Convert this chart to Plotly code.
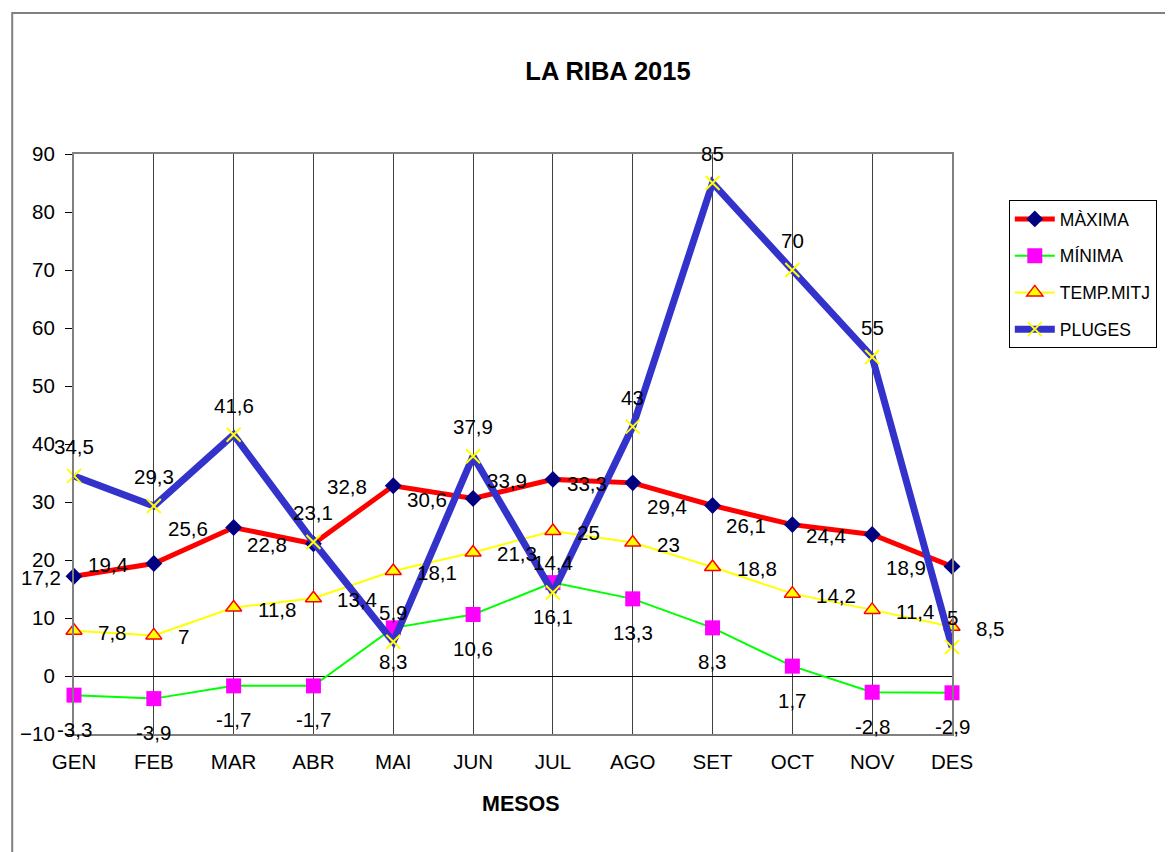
import plotly.graph_objects as go

months = ["GEN", "FEB", "MAR", "ABR", "MAI", "JUN", "JUL", "AGO", "SET", "OCT", "NOV", "DES"]
maxima = [17.2, 19.4, 25.6, 22.8, 32.8, 30.6, 33.9, 33.3, 29.4, 26.1, 24.4, 18.9]
minima = [-3.3, -3.9, -1.7, -1.7, 8.3, 10.6, 16.1, 13.3, 8.3, 1.7, -2.8, -2.9]
temp_mitja = [7.8, 7, 11.8, 13.4, 18.1, 21.3, 25, 23, 18.8, 14.2, 11.4, 8.5]
pluges = [34.5, 29.3, 41.6, 23.1, 5.9, 37.9, 14.4, 43, 85, 70, 55, 5]

FONT = "Liberation Sans, Arial, sans-serif"
OFF = 8  # page body margin
W, H = 1173 - OFF, 852 - OFF
L, T = 71 - OFF, 154 - OFF
R = W - (952 - OFF)
B = H - (734 - OFF)
pw = W - L - R
ph = H - T - B

def px(x):  # page pixel -> paper x
    return (x - OFF - L) / pw

def py(y):  # page pixel -> paper y
    return (H - B - (y - OFF)) / ph

def fmt(v):
    return f"{v:g}".replace(".", ",")

fig = go.Figure()

series = [
    dict(name="MÀXIMA", y=maxima, line=dict(color="#FF0000", width=5),
         marker=dict(symbol="diamond", size=13, color="#000080", line=dict(width=0))),
    dict(name="MÍNIMA", y=minima, line=dict(color="#00FF00", width=2),
         marker=dict(symbol="square", size=15, color="#FF00FF", line=dict(width=0))),
    dict(name="TEMP.MITJ", y=temp_mitja, line=dict(color="#FFFF00", width=2),
         marker=dict(symbol="triangle-up", size=14, color="#FFFF00", line=dict(color="#FF0000", width=1.5))),
    dict(name="PLUGES", y=pluges, line=dict(color="#3333CC", width=7),
         marker=dict(symbol="x-thin", size=14, color="#FFFF00", line=dict(color="#FFFF00", width=2))),
]
for i, s in enumerate(series):
    fig.add_trace(go.Scatter(x=months, y=s["y"], name=s["name"], mode="lines+markers",
                             line=s["line"], marker=s["marker"], cliponaxis=False,
                             legendgroup=f"g{i}"))

label_style = {
    "MÀXIMA": dict(xanchor="center", xshift=-46, yshift=-1),
    "MÍNIMA": dict(xanchor="center", xshift=0, yshift=-34),
    "TEMP.MITJ": dict(xanchor="left", xshift=22, yshift=-1.5),
    "PLUGES": dict(xanchor="center", xshift=0, yshift=29.5),
}
annotations = []
for s in series:
    st = label_style[s["name"]]
    for j, (m, v) in enumerate(zip(months, s["y"])):
        xs = st["xshift"]
        if s["name"] == "MÀXIMA" and j == 0:
            xs = -33
        annotations.append(dict(x=m, y=v, xref="x", yref="y", text=fmt(v), showarrow=False,
                                xanchor=st["xanchor"], yanchor="middle", xshift=xs, yshift=st["yshift"],
                                font=dict(family=FONT, size=20.5, color="black")))

annotations.append(dict(text="<b>MESOS</b>", x=px(520), y=py(804),
                        xref="paper", yref="paper", showarrow=False, xanchor="center", yanchor="middle",
                        font=dict(family=FONT, size=21.5, color="black")))

shapes = [dict(type="rect", xref="paper", yref="paper",
               x0=px(9), x1=px(1190), y0=py(870), y1=py(13),
               line=dict(color="#808080", width=2), fillcolor="rgba(0,0,0,0)", layer="below")]

fig.update_layout(
    width=W, height=H,
    margin=dict(l=L, r=R, t=T, b=B, pad=0),
    paper_bgcolor="white", plot_bgcolor="white",
    font=dict(family=FONT, color="black"),
    title=dict(text="<b>LA RIBA 2015</b>", x=(608 - OFF) / W, y=1 - (71 - OFF) / H,
               xanchor="center", yanchor="middle", xref="container", yref="container",
               font=dict(family=FONT, size=25.5, color="black")),
    xaxis=dict(type="category", range=[0, 11], showgrid=True, gridcolor="#404040", gridwidth=1,
               showline=True, linecolor="#808080", linewidth=2, mirror=True, ticks="",
               tickfont=dict(family=FONT, size=20.5, color="black"), ticklabelstandoff=8,
               zeroline=False),
    yaxis=dict(range=[-10, 90], dtick=10, tick0=0, showgrid=False, zeroline=True, zerolinecolor="black",
               zerolinewidth=1, showline=True, linecolor="#808080", linewidth=2, mirror=True,
               ticks="outside", ticklen=7, tickcolor="black", tickwidth=1,
               tickfont=dict(family=FONT, size=20.5, color="black"), ticklabelstandoff=6),
    legend=dict(x=px(1009), y=py(200), xanchor="left", yanchor="top",
                bordercolor="black", borderwidth=1, bgcolor="white",
                font=dict(family=FONT, size=17.5, color="black"), tracegroupgap=11,
                itemwidth=40),
    annotations=annotations,
    shapes=shapes,
    showlegend=True,
)

fig.write_html("out.html")
